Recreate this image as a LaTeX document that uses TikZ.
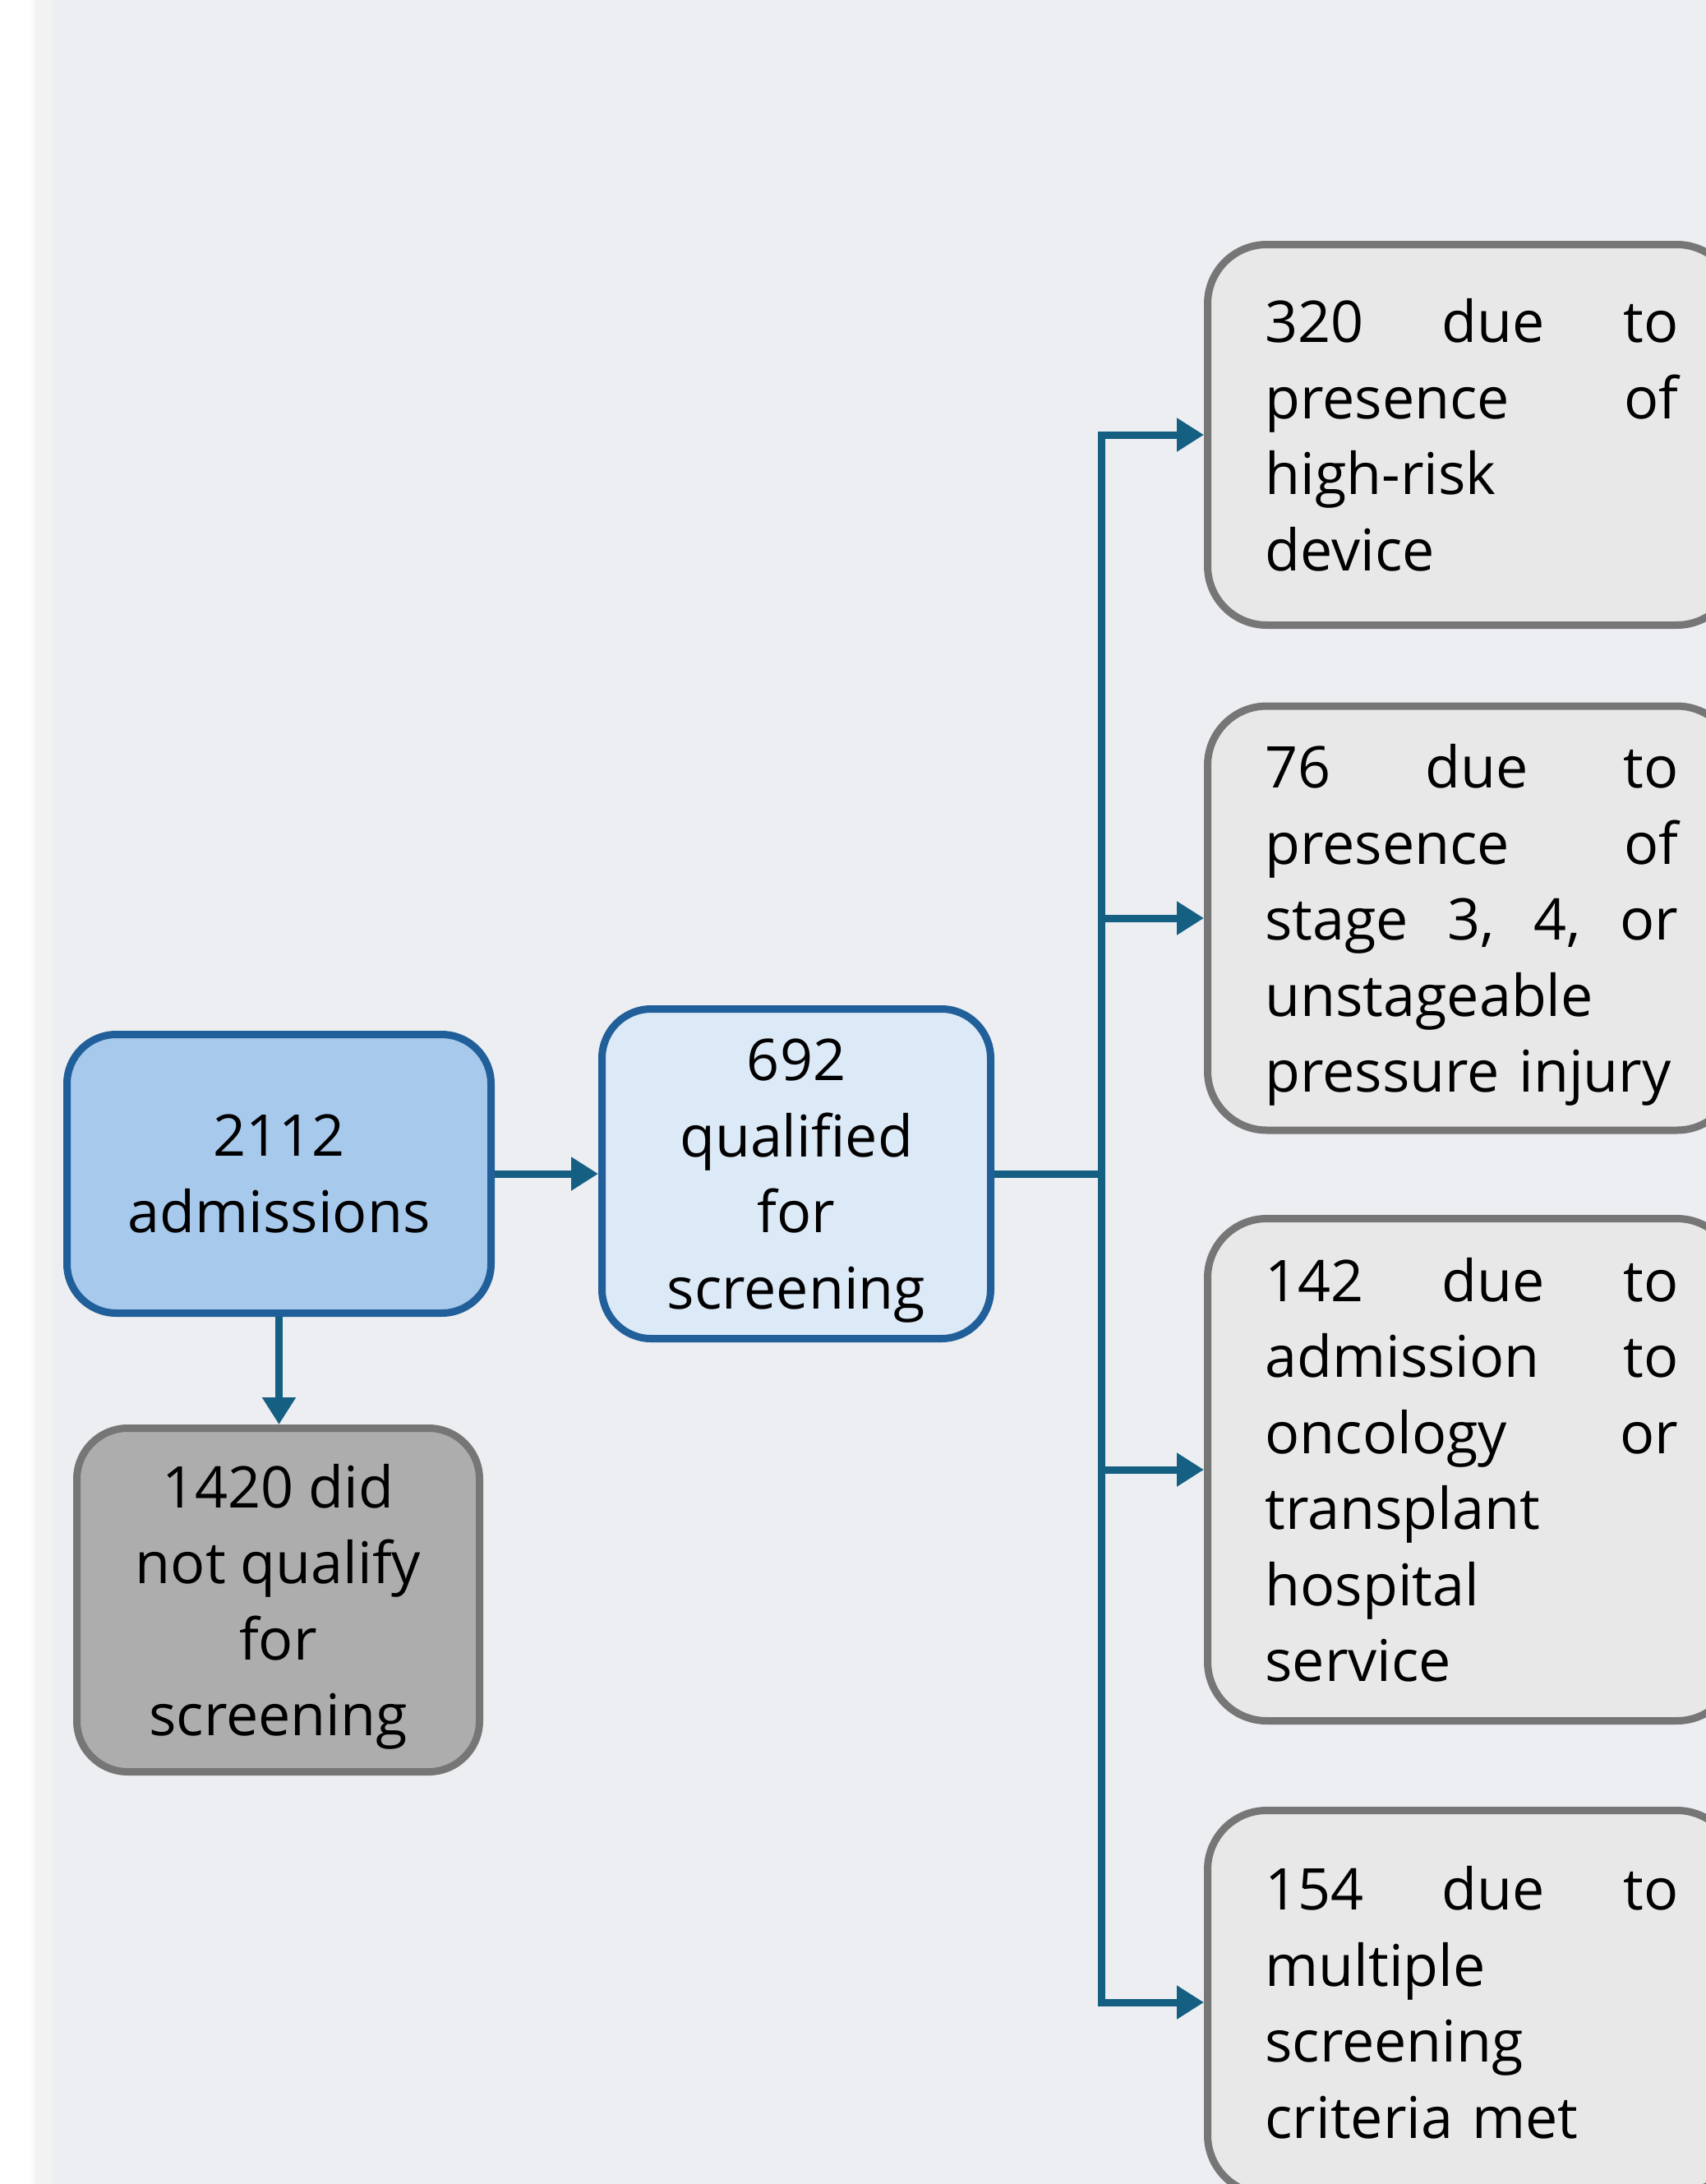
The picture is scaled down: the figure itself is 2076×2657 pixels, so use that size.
\documentclass[tikz,border=0pt]{standalone}
\usepackage{fontspec}
\setmainfont{Open Sans}
\usetikzlibrary{arrows.meta}
\definecolor{panelbg}{RGB}{237,238,242}
\definecolor{shadowbg}{RGB}{242,242,243}
\definecolor{blueedge}{RGB}{33,95,154}
\definecolor{bluedark}{RGB}{166,201,236}
\definecolor{bluelight}{RGB}{220,233,246}
\definecolor{grayedge}{RGB}{118,118,118}
\definecolor{graydark}{RGB}{173,173,173}
\definecolor{graylight}{RGB}{232,232,232}
\definecolor{connblue}{RGB}{21,96,130}
\newcommand{\nodepth}[1]{\raisebox{0pt}[\height][0pt]{#1}}
\tikzset{
  boxbase/.style={draw, line width=9pt, align=center, inner sep=0pt,
    font=\fontsize{70}{92.5}\selectfont, text=black},
  bluedarkbox/.style={boxbase, draw=blueedge, fill=bluedark, rounded corners=60pt},
  bluelightbox/.style={boxbase, draw=blueedge, fill=bluelight, rounded corners=60pt},
  graydarkbox/.style={boxbase, draw=grayedge, fill=graydark, rounded corners=62pt},
  reasonbox/.style={boxbase, draw=grayedge, fill=graylight, rounded corners=72pt,
    anchor=west, align=left, text width=503pt, inner xsep=70pt, inner ysep=0pt},
  conn/.style={draw=connblue, line width=9pt},
  tip/.style={-{Triangle[length=33pt,width=39pt]}},
}
\begin{document}
\begin{tikzpicture}[x=1pt,y=-1pt]
\useasboundingbox (0,0) rectangle (2076,2657);
\clip (0,0) rectangle (2076,2657);
% background
\fill[white] (0,0) rectangle (2076,2657);
\shade[left color=white, right color=shadowbg, shading angle=90] (36,0) rectangle (44,2657);
\fill[shadowbg] (44,0) rectangle (64,2657);
\fill[panelbg] (64,0) rectangle (2076,2657);

% left column
\node[bluedarkbox, minimum width=516pt, minimum height=339pt] (adm) at (339.5,1428) {2112\\admissions};
\node[bluelightbox, minimum width=473pt, minimum height=401pt] (qual) at (969,1428) {692\\qualified\\for\\\nodepth{screening}};
\node[graydarkbox, minimum width=490pt, minimum height=418pt] (notq) at (338.5,1946.5) {1420 did\\not qualify\\for\\\nodepth{screening}};

% reason boxes
\node[reasonbox, minimum height=463pt] (r1) at (1465,529)
  {320\hfill due\hfill to\\presence\hfill of\\high-risk\\device};
\node[reasonbox, minimum height=516pt] (r2) at (1465,1117)
  {76\hfill due\hfill to\\presence\hfill of\\stage\hfill 3,\hfill 4,\hfill or\\unstageable\\\nodepth{pressure injury}};
\node[reasonbox, minimum height=611pt] (r3) at (1465,1788)
  {142\hfill due\hfill to\\admission\hfill to\\oncology\hfill or\\transplant\\hospital\\service};
\node[reasonbox, minimum height=467pt] (r4) at (1465,2436)
  {154\hfill due\hfill to\\multiple\\screening\\criteria met};

% connectors
\draw[conn, tip] (adm.east) -- (qual.west);
\draw[conn, tip] (adm.south) -- (adm.south |- notq.north);
\coordinate (trunk) at (1340,1428);
\draw[conn] (qual.east) -- (trunk);
\draw[conn, {Triangle[length=33pt,width=39pt]}-{Triangle[length=33pt,width=39pt]}, line join=miter]
  (r1.west) -| (trunk) |- (r4.west);
\draw[conn, tip] (trunk |- r2.west) -- (r2.west);
\draw[conn, tip] (trunk |- r3.west) -- (r3.west);
\end{tikzpicture}
\end{document}
